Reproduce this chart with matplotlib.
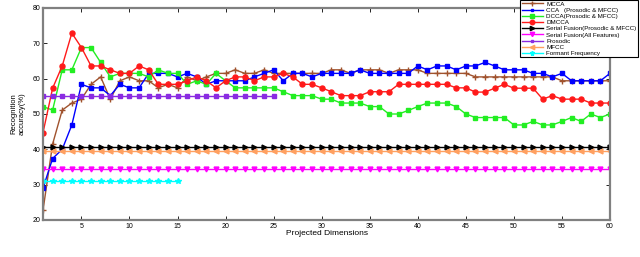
import matplotlib
matplotlib.use("Agg")
import matplotlib.pyplot as plt
import numpy as np

plt.rcParams['font.family'] = ['Liberation Sans', 'DejaVu Sans']

dims = list(range(1, 61))

mcca = [22.7, 41.5, 51.1, 53.1, 54.2, 58.4, 60.5, 54.2, 59.4, 60.5,
        59.4, 59.4, 57.4, 58.4, 57.4, 60.5, 59.4, 60.5, 61.5, 61.5,
        62.5, 61.5, 61.5, 62.5, 61.5, 61.5, 61.5, 61.5, 61.5, 61.5,
        62.5, 62.5, 61.5, 62.5, 62.5, 62.5, 61.5, 62.5, 62.5, 62.5,
        61.5, 61.5, 61.5, 61.5, 61.5, 60.5, 60.5, 60.5, 60.5, 60.5,
        60.5, 60.5, 60.5, 60.5, 59.4, 59.4, 59.4, 59.4, 59.4, 59.4]

cca = [29.0, 37.4, 40.0, 46.9, 58.4, 57.4, 57.4, 55.2, 58.4, 57.4,
       57.4, 61.5, 61.5, 61.5, 60.5, 61.5, 60.5, 58.4, 59.4, 59.4,
       59.4, 59.4, 60.5, 61.5, 62.5, 59.4, 61.5, 61.5, 60.5, 61.5,
       61.5, 61.5, 61.5, 62.5, 61.5, 61.5, 61.5, 61.5, 61.5, 63.6,
       62.5, 63.6, 63.6, 62.5, 63.6, 63.6, 64.6, 63.6, 62.5, 62.5,
       62.5, 61.5, 61.5, 60.5, 61.5, 59.4, 59.4, 59.4, 59.4, 61.5]

dcca = [52.1, 51.1, 62.5, 62.5, 68.8, 68.8, 64.6, 60.5, 61.5, 61.5,
        61.5, 60.5, 62.5, 61.5, 61.5, 58.4, 59.4, 58.4, 61.5, 59.4,
        57.4, 57.4, 57.4, 57.4, 57.4, 56.3, 55.2, 55.2, 55.2, 54.2,
        54.2, 53.1, 53.1, 53.1, 52.1, 52.1, 50.0, 50.0, 51.0, 52.1,
        53.1, 53.1, 53.1, 52.1, 50.0, 49.0, 49.0, 49.0, 49.0, 46.9,
        46.9, 47.9, 46.9, 46.9, 47.9, 49.0, 47.9, 50.0, 49.0, 50.0]

dmcca = [44.7, 57.3, 63.6, 72.9, 68.8, 63.6, 63.6, 62.5, 61.5, 61.5,
         63.6, 62.5, 58.4, 58.4, 58.4, 59.4, 60.5, 59.4, 57.4, 59.4,
         60.5, 60.5, 59.4, 60.5, 60.5, 61.5, 60.5, 58.4, 58.4, 57.4,
         56.3, 55.2, 55.2, 55.2, 56.3, 56.3, 56.3, 58.4, 58.4, 58.4,
         58.4, 58.4, 58.4, 57.4, 57.4, 56.2, 56.2, 57.3, 58.4, 57.3,
         57.3, 57.3, 54.2, 55.2, 54.2, 54.2, 54.2, 53.1, 53.1, 53.1]

serial_pm = [40.7] * 60
serial_all = [34.3] * 60
prosodic = [55.2] * 25
mfcc = [39.5] * 60
formant = [31.0] * 15

fig = plt.figure(figsize=(6.4, 2.57), dpi=100)
ax = fig.add_axes([43/640, 1 - 220/257, (610-43)/640, (220-8)/257])

lw = 1.0
ax.plot(dims, mcca, color='#a0522d', marker='+', ms=4, lw=lw, label='MCCA')
ax.plot(dims, cca, color='#0000ff', marker='s', ms=2.2, lw=lw, label='CCA   (Prosodic & MFCC)')
ax.plot(dims, dcca, color='#22ee22', marker='s', ms=3, lw=lw, label='DCCA(Prosodic & MFCC)')
ax.plot(dims, dmcca, color='#ff1a1a', marker='o', ms=3.6, lw=lw, label='DMCCA')
ax.plot(dims, serial_pm, color='black', marker='>', ms=3.5, lw=lw, label='Serial Fusion(Prosodic & MFCC)')
ax.plot(dims, serial_all, color='#ff00ff', marker='v', ms=3.5, lw=lw, label='Serial Fusion(All Features)')
ax.plot(dims[:25], prosodic, color='#8a2be2', marker='s', ms=2.2, lw=lw, label='Prosodic')
ax.plot(dims, mfcc, color='#ffa060', marker='<', ms=3.5, lw=lw, label='MFCC')
ax.plot(dims[:15], formant, color='#00ffff', marker='*', ms=4, lw=lw, label='Formant Frequency')

ax.set_xlim(1, 60)
ax.set_ylim(20, 80)
ax.set_xticks([5, 10, 15, 20, 25, 30, 35, 40, 45, 50, 55, 60])
ax.set_yticks([20, 30, 40, 50, 60, 70, 80])
ax.tick_params(direction='in', labelsize=5, length=3, width=0.6, top=True, right=True, pad=2)
for s in ax.spines.values():
    s.set_color('#808080')
    s.set_linewidth(1.6)

ax.set_xlabel('Projected Dimensions', fontsize=6, labelpad=0)
ax.set_ylabel('Recognition\naccuracy(%)', fontsize=5.5, labelpad=5)

leg = ax.legend(loc='upper right', bbox_to_anchor=(638/640, 1.0), bbox_transform=fig.transFigure,
                fontsize=4.5, frameon=True, fancybox=False, edgecolor='black', framealpha=1,
                handlelength=3.5, handletextpad=0.5, labelspacing=0.13, borderpad=0.2,
                borderaxespad=0, markerscale=0.9)
leg.get_frame().set_linewidth(0.8)

fig.savefig('out.png', dpi=100)
